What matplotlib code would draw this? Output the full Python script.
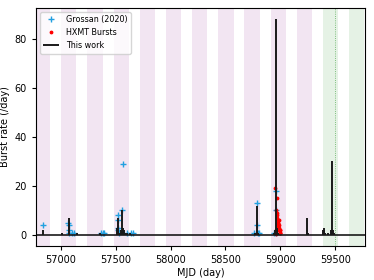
import matplotlib
matplotlib.use("Agg")
import matplotlib.pyplot as plt

# observing windows (start MJD, length in days)
band_start = [56765, 57003, 57242, 57482, 57721, 57958, 58194, 58433, 58672, 58912, 59148]
band_start_green = [59385, 59624]
band_len = 140
mark_day = 59494

# Grossan (2020)
g_t = [56836, 57070, 57072, 57075, 57078, 57100, 57125, 57370, 57388, 57395,
       57520, 57522, 57524, 57526, 57528, 57562, 57563, 57600, 57639, 57660,
       58762, 58787, 58789, 58795, 58808, 58940, 58958, 58960, 58962]
g_r = [4, 5, 4, 2, 1, 1, 1, 1, 1, 1,
       8, 6, 3, 2, 1, 10, 29, 1, 1, 1,
       1, 13, 4, 1, 1, 1, 18, 10, 1]

# HXMT bursts
h_t = [58955, 58958, 58960, 58962, 58963, 58965, 58967, 58968, 58970, 58972,
       58974, 58975, 58977, 58978, 58980, 58982, 58983, 58985, 58987, 58988,
       58990, 58992, 58993, 58995, 58998, 59000]
h_r = [19, 2, 0.5, 10, 1, 9, 3, 8, 15, 7,
       4, 6, 5, 5, 4, 3, 2, 6, 4, 2,
       3, 1, 2, 2, 1, 1]

# this work
w_t = [56836, 57015, 57073, 57078, 57152, 57362,
       57515, 57518, 57522, 57530, 57548, 57560, 57565, 57570, 57578, 57585, 57600, 57628,
       58765, 58787, 58792,
       58945, 58955, 58960, 58966, 58972, 58980,
       59240, 59245, 59250,
       59388, 59395, 59400, 59410, 59430, 59462, 59466, 59470, 59478, 59485]
w_r = [2, 1, 7, 2, 1, 1,
       3, 7, 2, 1, 2, 10, 3, 2, 2, 1, 1, 1,
       1, 12, 1,
       1, 2, 88, 3, 2, 1,
       7, 2, 1,
       2, 3, 2, 1, 1, 2, 30, 2, 2, 1]

fig = plt.figure(figsize=(3.74, 2.8), dpi=100)
ax = fig.add_axes([36/374, 34/280, 329/374, 238/280])

for s in band_start:
    ax.axvspan(s, s + band_len, color="purple", alpha=0.1, lw=0)
for s in band_start_green:
    ax.axvspan(s, s + band_len, color="green", alpha=0.1, lw=0)
ax.axvline(mark_day, color="green", ls=":", lw=0.6, alpha=0.6)

ax.plot(g_t, g_r, "+", color="#22a0e0", ms=5, mew=1.0, label="Grossan (2020)")
ax.plot(h_t, h_r, ".", color="red", ms=3.5, label="HXMT Bursts")
ax.vlines(w_t, 0, w_r, color="#1a1a1a", lw=1.4, label="This work")
ax.axhline(0, color="#1a1a1a", lw=1.2)

ax.set_xlim(56775, 59770)
ax.set_ylim(-4.5, 92.6)
ax.set_xticks([57000, 57500, 58000, 58500, 59000, 59500])
ax.set_yticks([0, 20, 40, 60, 80])
ax.tick_params(labelsize=7, length=3)
ax.set_xlabel("MJD (day)", fontsize=7, labelpad=2)
ax.set_ylabel("Burst rate (/day)", fontsize=7, labelpad=3)

ax.legend(loc="upper left", fontsize=5.8, framealpha=0.8)

fig.savefig("out.png", dpi=100)
